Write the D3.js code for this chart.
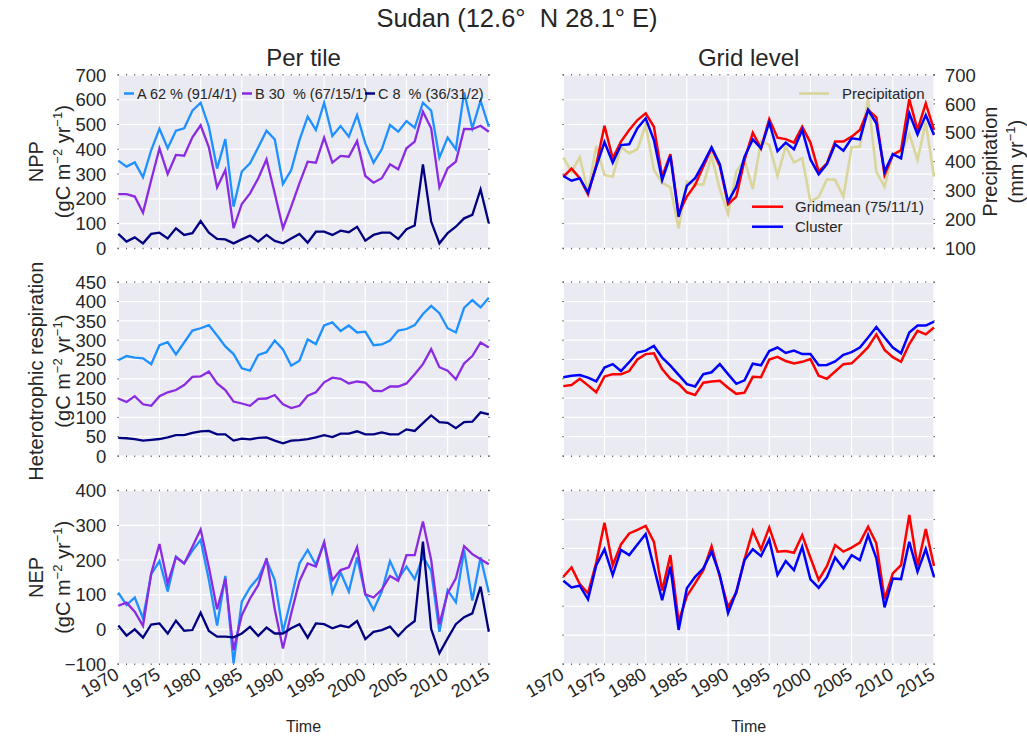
<!DOCTYPE html>
<html><head><meta charset="utf-8">
<script src="https://cdn.jsdelivr.net/npm/d3@7"></script>
<style>body{margin:0;background:#fff}svg{display:block;font-family:"Liberation Sans",Arial,sans-serif}text{white-space:pre}</style>
</head><body>
<script>
const years = [1970,1971,1972,1973,1974,1975,1976,1977,1978,1979,1980,1981,1982,1983,1984,1985,1986,1987,1988,1989,1990,1991,1992,1993,1994,1995,1996,1997,1998,1999,2000,2001,2002,2003,2004,2005,2006,2007,2008,2009,2010,2011,2012,2013,2014,2015];
const xTicks = [1970,1975,1980,1985,1990,1995,2000,2005,2010,2015];

// NPP per tile
const nppA = [354,330,347,287,397,483,404,475,485,556,588,491,322,441,168,310,343,408,475,440,260,316,437,532,478,588,454,494,451,538,424,346,400,498,471,514,487,588,556,366,447,400,630,485,596,491];
const nppB = [219,219,209,144,276,404,300,377,374,448,497,408,246,316,81,179,222,283,359,222,81,168,262,350,346,447,346,373,370,433,292,265,283,339,319,404,431,552,485,246,323,350,482,481,495,471];
const nppC = [58,27,44,20,58,63,40,81,54,61,110,63,38,36,20,36,51,27,54,30,20,40,58,23,67,67,54,71,65,87,31,54,63,63,38,77,92,339,108,20,61,87,121,135,238,101];
// NPP grid level
const nppGrid = [289,322,283,218,336,495,363,431,478,518,545,491,289,380,139,209,256,330,404,332,178,209,357,467,404,522,447,441,427,491,427,310,343,431,431,451,478,559,529,296,377,397,602,478,585,478];
const nppCluster = [292,273,283,225,330,429,346,417,420,485,525,437,276,373,128,252,283,343,408,340,188,249,370,440,404,509,393,427,400,478,359,299,340,420,394,444,440,559,505,310,380,363,545,460,538,458];
const precip = [414,365,415,296,454,354,348,450,429,443,527,371,327,311,169,331,321,321,420,304,219,365,406,305,472,458,350,454,397,412,262,277,339,337,279,450,452,616,365,313,429,431,496,406,535,348];
// Heterotrophic respiration
const rhA = [248,259,255,253,238,287,295,263,294,325,331,339,312,284,264,227,221,262,269,299,276,234,247,302,290,338,346,324,338,320,322,287,289,299,325,329,339,368,389,370,331,320,384,404,385,410];
const rhB = [149,140,155,134,130,155,165,171,184,205,206,219,188,171,141,136,130,148,149,158,134,124,130,156,165,191,203,200,188,193,190,169,168,180,180,188,212,238,277,230,221,199,240,259,294,281];
const rhC = [47,46,44,40,42,44,48,54,54,60,64,65,56,56,40,45,43,47,48,40,33,40,41,44,48,54,49,58,58,64,56,56,61,56,56,69,65,85,105,88,86,72,88,89,113,108];
const rhGrid = [181,184,200,183,165,206,212,212,220,250,264,266,225,200,187,165,158,190,193,195,177,161,164,205,204,250,257,246,240,244,251,208,200,219,238,240,260,282,315,275,256,244,290,324,315,333];
const rhCluster = [204,208,210,203,193,229,238,220,243,268,273,285,255,234,210,186,180,212,217,238,212,187,196,239,235,272,281,267,273,264,264,235,236,245,262,269,281,307,334,307,281,266,320,338,338,348];
// NEP
const nepA = [106,70,92,32,159,197,109,210,190,227,258,142,11,154,-98,80,121,149,200,142,-7,89,190,229,186,251,106,164,109,208,101,56,109,197,145,181,145,210,169,-7,113,78,229,83,208,106];
const nepB = [68,77,51,10,162,246,133,208,190,238,288,179,58,146,-60,41,89,128,205,58,-55,46,139,190,181,251,142,171,179,237,101,92,115,154,140,214,214,311,200,15,104,147,240,217,202,188];
const nepC = [11,-18,0,-24,14,17,-12,25,-4,-2,48,-5,-21,-21,-23,-12,7,-19,5,-12,-12,3,15,-24,17,15,3,11,6,24,-28,-7,-2,8,-19,6,24,253,1,-69,-26,15,35,46,123,-7];
const nepGrid = [102,134,77,45,151,289,142,214,252,264,278,223,54,177,-53,35,79,125,208,102,-2,47,162,261,197,273,189,191,185,246,168,91,139,212,189,203,220,275,218,24,114,142,316,139,267,139];
const nepCluster = [88,65,71,24,142,197,108,195,177,214,250,134,21,137,-82,62,102,131,189,108,-24,50,160,197,174,231,108,156,125,206,93,64,100,169,131,177,160,246,166,-4,96,94,223,120,198,102];

const tileNames = ["A 62 % (91/4/1)", "B 30  % (67/15/1)", "C 8  % (36/31/2)"];
const gridNames = ["Gridmean (75/11/1)", "Cluster"];
const precipName = "Precipitation";
const nppTicks = [0,100,200,300,400,500,600,700];
const rhTicks = [0,50,100,150,200,250,300,350,400,450];
const nepTicks = [-100,0,100,200,300,400];
const nepGridTicks = [-200,-100,0,100,200,300,400];
const precipTicks = [100,200,300,400,500,600,700];

const tileColors = ["#1e90ff","#8a2be2","#000080"];
const gridColors = ["#ff0000","#0000ff"];
const precipColor = "#d9d59b";

const W = 1027, H = 736;
const svg = d3.select("body").append("svg").attr("width",W).attr("height",H);

const cols = [[118.3,488.8],[563.3,934]];
const rows = [[75,248.3],[282.3,456],[490.7,664]];
const TXT = "#262626";

function panel(col,row,domain,ticks,opts){
  const [x0,x1]=cols[col],[y0,y1]=rows[row];
  const x=d3.scaleLinear().domain([1970,2015]).range([x0,x1]);
  const y=d3.scaleLinear().domain(domain).range([y1,y0]);
  const g=svg.append("g");
  g.append("rect").attr("x",x0).attr("y",y0).attr("width",x1-x0).attr("height",y1-y0).attr("fill","#eaeaf2");
  g.selectAll(".hg").data(ticks).join("line").attr("x1",x0).attr("x2",x1).attr("y1",d=>y(d)).attr("y2",d=>y(d)).attr("stroke","#fff").attr("stroke-width",1.2);
  g.selectAll(".vg").data(xTicks).join("line").attr("x1",d=>x(d)).attr("x2",d=>x(d)).attr("y1",y0).attr("y2",y1).attr("stroke","#fff").attr("stroke-width",1.2);
  g.selectAll(".tt").data(years).join("line").attr("x1",d=>x(d)).attr("x2",d=>x(d)).attr("y1",y0-1).attr("y2",y0+0.5).attr("stroke","#555").attr("stroke-width",1);
  g.selectAll(".bt").data(years).join("line").attr("x1",d=>x(d)).attr("x2",d=>x(d)).attr("y1",y1-0.5).attr("y2",y1+1).attr("stroke","#555").attr("stroke-width",1);
  g.selectAll(".lt").data(ticks).join("line").attr("x1",x0-1).attr("x2",x0+0.5).attr("y1",d=>y(d)).attr("y2",d=>y(d)).attr("stroke","#555");
  g.selectAll(".rt").data(ticks).join("line").attr("x1",x1-0.5).attr("x2",x1+1).attr("y1",d=>y(d)).attr("y2",d=>y(d)).attr("stroke","#555");
  if(opts.yLabels){
    g.selectAll(".yl").data(ticks).join("text").attr("x",x0-12).attr("y",d=>y(d)).attr("dy","0.36em")
      .attr("text-anchor","end").attr("font-size",18.5).attr("fill",TXT).text(d=>d<0?"\u2212"+Math.abs(d):d);
  }
  if(opts.xLabels){
    g.selectAll(".xl").data(xTicks).join("text")
      .attr("transform",d=>`translate(${x(d)+2},${y1+14}) rotate(-30)`)
      .attr("text-anchor","end").attr("font-size",18.2).attr("fill",TXT).text(d=>d);
    g.append("text").attr("x",(x0+x1)/2).attr("y",732).attr("text-anchor","middle").attr("font-size",16).attr("fill",TXT).text("Time");
  }
  return {x,y,g};
}

function drawLine(p,data,color,w){
  const line=d3.line().x((d,i)=>p.x(years[i])).y(d=>p.y(d));
  p.g.append("path").datum(data).attr("d",line).attr("fill","none").attr("stroke",color).attr("stroke-width",w);
}

// Left column
const p1=panel(0,0,[0,700],nppTicks,{yLabels:true});
[nppA,nppB,nppC].forEach((s,i)=>drawLine(p1,s,tileColors[i],2.3));
const p2=panel(0,1,[0,450],rhTicks,{yLabels:true});
[rhA,rhB,rhC].forEach((s,i)=>drawLine(p2,s,tileColors[i],2.3));
const p3=panel(0,2,[-100,400],nepTicks,{yLabels:true,xLabels:true});
[nepA,nepB,nepC].forEach((s,i)=>drawLine(p3,s,tileColors[i],2.3));

// Right column
const q1=panel(1,0,[0,700],nppTicks,{});
const yPre=d3.scaleLinear().domain([100,700]).range([rows[0][1],rows[0][0]]);
const preLine=d3.line().x((d,i)=>q1.x(years[i])).y(d=>yPre(d));
q1.g.append("path").datum(precip).attr("d",preLine).attr("fill","none").attr("stroke",precipColor).attr("stroke-width",2.6);
drawLine(q1,nppGrid,gridColors[0],2.5);
drawLine(q1,nppCluster,gridColors[1],2.5);
svg.selectAll(".pl").data(precipTicks).join("text").attr("x",945).attr("y",d=>yPre(d)).attr("dy","0.36em")
  .attr("font-size",18.5).attr("fill",TXT).text(d=>d);
svg.selectAll(".pt").data(precipTicks).join("line").attr("x1",933.5).attr("x2",935).attr("y1",d=>yPre(d)).attr("y2",d=>yPre(d)).attr("stroke","#555");

const q2=panel(1,1,[0,450],rhTicks,{});
drawLine(q2,rhGrid,gridColors[0],2.5);
drawLine(q2,rhCluster,gridColors[1],2.5);
const q3=panel(1,2,[-200,400],nepGridTicks,{xLabels:true});
drawLine(q3,nepGrid,gridColors[0],2.5);
drawLine(q3,nepCluster,gridColors[1],2.5);

// Legends
const legL=svg.append("g").attr("font-size",14.5).attr("fill",TXT);
const legPos=[124,242,365];
tileNames.forEach((n,i)=>{
  legL.append("line").attr("x1",legPos[i]).attr("x2",legPos[i]+10).attr("y1",93.5).attr("y2",93.5).attr("stroke",tileColors[i]).attr("stroke-width",2.5);
  legL.append("text").attr("x",legPos[i]+13).attr("y",98.5).text(n);
});
const legR=svg.append("g").attr("font-size",15).attr("fill",TXT);
legR.append("line").attr("x1",799).attr("x2",829).attr("y1",93.5).attr("y2",93.5).attr("stroke",precipColor).attr("stroke-width",2.6);
legR.append("text").attr("x",842).attr("y",99).text(precipName);
gridNames.forEach((n,i)=>{
  const yy=206.7+i*20;
  legR.append("line").attr("x1",752).attr("x2",783).attr("y1",yy).attr("y2",yy).attr("stroke",gridColors[i]).attr("stroke-width",2.5);
  legR.append("text").attr("x",795).attr("y",yy+5.5).text(n);
});

// Titles
svg.append("text").attr("x",517).attr("y",27).attr("text-anchor","middle").attr("font-size",25.5).attr("fill",TXT).text("Sudan (12.6\u00b0  N 28.1\u00b0 E)");
svg.append("text").attr("x",(cols[0][0]+cols[0][1])/2).attr("y",66).attr("text-anchor","middle").attr("font-size",24).attr("fill",TXT).text("Per tile");
svg.append("text").attr("x",(cols[1][0]+cols[1][1])/2).attr("y",66).attr("text-anchor","middle").attr("font-size",24).attr("fill",TXT).text("Grid level");

// Y axis labels
function unitLabel(x,yc,parts){
  const t=svg.append("text").attr("transform",`translate(${x},${yc}) rotate(-90)`).attr("text-anchor","middle").attr("font-size",20).attr("fill",TXT);
  parts.forEach(([s,sup])=>{
    if(sup) t.append("tspan").attr("dy",-8).attr("font-size",13).text(s);
    else t.append("tspan").attr("dy",t.selectAll("tspan").size()?8:0).text(s);
  });
}
function mainLabel(x,yc,s){
  svg.append("text").attr("transform",`translate(${x},${yc}) rotate(-90)`).attr("text-anchor","middle").attr("font-size",20).attr("fill",TXT).text(s);
}
const gcParts=[["(gC m",0],["\u22122",1],[" yr",0],["\u22121",1],[")",0]];
const mid=r=>(rows[r][0]+rows[r][1])/2;
mainLabel(43,mid(0),"NPP"); unitLabel(62,mid(0),gcParts);
mainLabel(43,mid(1)+2,"Heterotrophic respiration"); unitLabel(62,mid(1)+2,gcParts);
mainLabel(43,mid(2),"NEP"); unitLabel(62,mid(2),gcParts);
mainLabel(997,mid(0),"Precipitation");
unitLabel(1015,mid(0),[["(mm yr",0],["\u22121",1],[")",0]]);
</script>
</body></html>
